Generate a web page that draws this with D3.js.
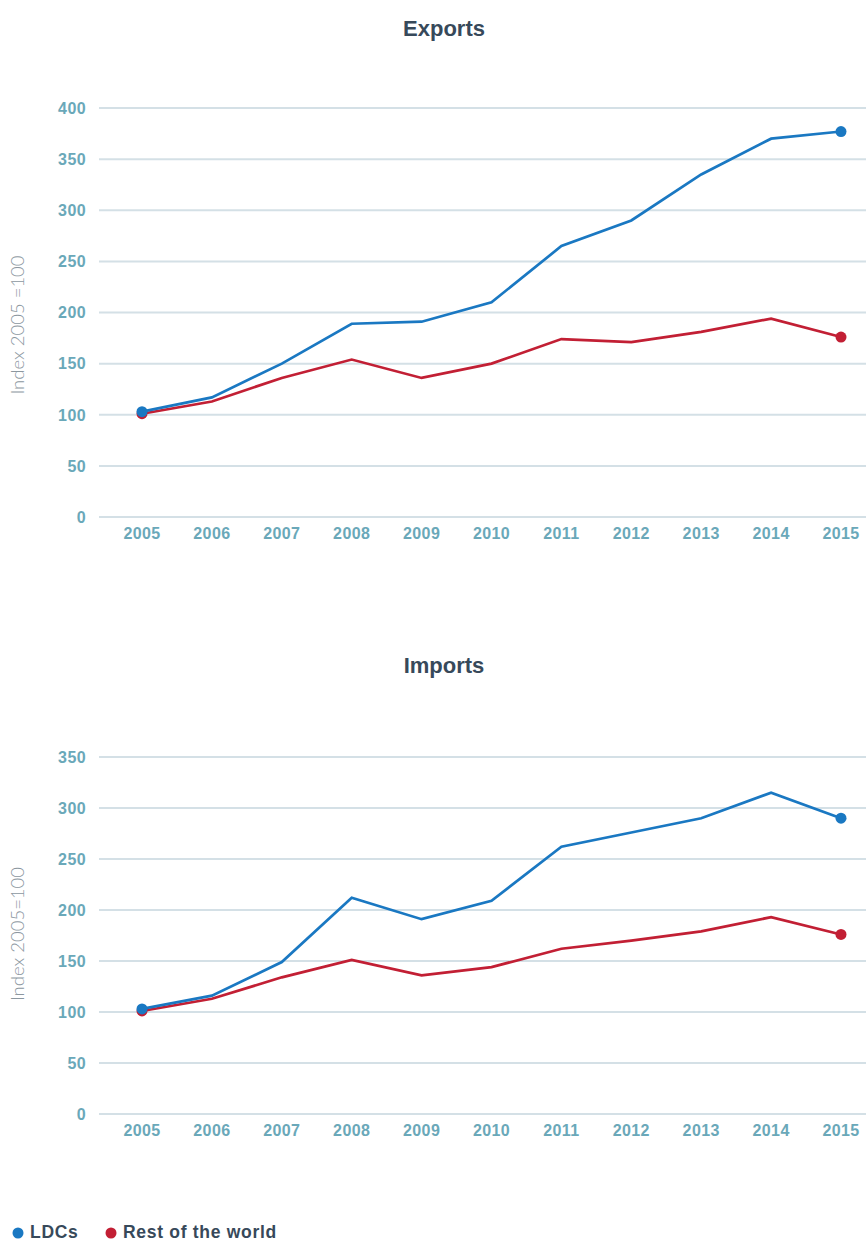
<!DOCTYPE html>
<html>
<head>
<meta charset="utf-8">
<script src="https://cdn.jsdelivr.net/npm/d3@7/dist/d3.min.js"></script>
<style>
  html, body { margin: 0; padding: 0; background: #ffffff; }
  svg { display: block; }
  .tick-label { font-family: "Liberation Sans", Arial, sans-serif; font-weight: 700; font-size: 16px; fill: #6aa8b9; letter-spacing: 0.4px; }
  .panel-title { font-family: "Liberation Sans", Arial, sans-serif; font-weight: 700; font-size: 22px; fill: #37495a; }
  .y-title { font-family: "Lato", "Liberation Sans", sans-serif; font-weight: 300; font-size: 18.5px; fill: #8c979f; }
  .legend-label { font-family: "Liberation Sans", Arial, sans-serif; font-weight: 700; font-size: 17.5px; fill: #37495a; letter-spacing: 0.7px; }
</style>
</head>
<body>
<svg id="chart" width="866" height="1243"></svg>
<script>
// Years on the horizontal axis
const years = [2005, 2006, 2007, 2008, 2009, 2010, 2011, 2012, 2013, 2014, 2015];

// Export volume index (2005 = 100)
const exportsLDCs = [103, 117, 150, 189, 191, 210, 265, 290, 335, 370, 377];
const exportsRest = [101, 113, 136, 154, 136, 150, 174, 171, 181, 194, 176];

// Import volume index (2005 = 100)
const importsLDCs = [103, 116, 149, 212, 191, 209, 262, 276, 290, 315, 290];
const importsRest = [101, 113, 134, 151, 136, 144, 162, 170, 179, 193, 176];

// Y-axis tick values per panel
const exportsTicks = [0, 50, 100, 150, 200, 250, 300, 350, 400];
const importsTicks = [0, 50, 100, 150, 200, 250, 300, 350];

const seriesNames = ["LDCs", "Rest of the world"];
const seriesColors = ["#1a78c2", "#c21f34"];

const svg = d3.select("#chart");

const x = d3.scaleLinear().domain([2005, 2015]).range([142, 841]);

function drawPanel(cfg) {
  const g = svg.append("g");
  const y = d3.scaleLinear().domain([0, cfg.max]).range([cfg.bottom, cfg.top]);

  // Title
  g.append("text").attr("class", "panel-title")
    .attr("x", 444).attr("y", cfg.titleY)
    .attr("text-anchor", "middle").text(cfg.title);

  // Gridlines
  g.selectAll("line.grid").data(cfg.ticks).enter().append("line")
    .attr("x1", 99).attr("x2", 866)
    .attr("y1", d => y(d)).attr("y2", d => y(d))
    .attr("stroke", "#d4e0e6").attr("stroke-width", 2);

  // Y tick labels
  g.selectAll("text.ytick").data(cfg.ticks).enter().append("text")
    .attr("class", "tick-label")
    .attr("x", 86).attr("y", d => y(d))
    .attr("dy", "0.36em").attr("text-anchor", "end")
    .text(d => d);

  // X tick labels
  g.selectAll("text.xtick").data(years).enter().append("text")
    .attr("class", "tick-label")
    .attr("x", d => x(d)).attr("y", cfg.bottom + 22)
    .attr("text-anchor", "middle")
    .text(d => d);

  // Y axis title
  g.append("text").attr("class", "y-title")
    .attr("transform", `translate(24,${cfg.yTitleY}) rotate(-90)`)
    .attr("text-anchor", "middle").text(cfg.yTitle);

  const line = d3.line().x((d, i) => x(years[i])).y(d => y(d));

  // Draw red series first so blue sits on top
  [cfg.series[1], cfg.series[0]].forEach((vals, k) => {
    const color = k === 0 ? seriesColors[1] : seriesColors[0];
    g.append("path").datum(vals)
      .attr("d", line).attr("fill", "none")
      .attr("stroke", color).attr("stroke-width", 2.7)
      .attr("stroke-linejoin", "miter");
    // endpoint markers
    [0, vals.length - 1].forEach(i => {
      g.append("circle")
        .attr("cx", x(years[i])).attr("cy", y(vals[i]))
        .attr("r", 5.5).attr("fill", color);
    });
  });
}

drawPanel({
  title: "Exports", titleY: 36, top: 108, bottom: 517, max: 400,
  ticks: exportsTicks, yTitle: "Index 2005 =100", yTitleY: 325,
  series: [exportsLDCs, exportsRest]
});

drawPanel({
  title: "Imports", titleY: 673, top: 757, bottom: 1114, max: 350,
  ticks: importsTicks, yTitle: "Index 2005=100", yTitleY: 934,
  series: [importsLDCs, importsRest]
});

// Legend
const legend = svg.append("g").attr("transform", "translate(0,1232)");
const legendX = [18, 111];
seriesNames.forEach((name, i) => {
  legend.append("circle").attr("cx", legendX[i]).attr("cy", 1).attr("r", 5.5).attr("fill", seriesColors[i]);
  legend.append("text").attr("class", "legend-label")
    .attr("x", legendX[i] + 12).attr("y", 0).attr("dy", "0.36em")
    .text(name);
});
</script>
</body>
</html>
